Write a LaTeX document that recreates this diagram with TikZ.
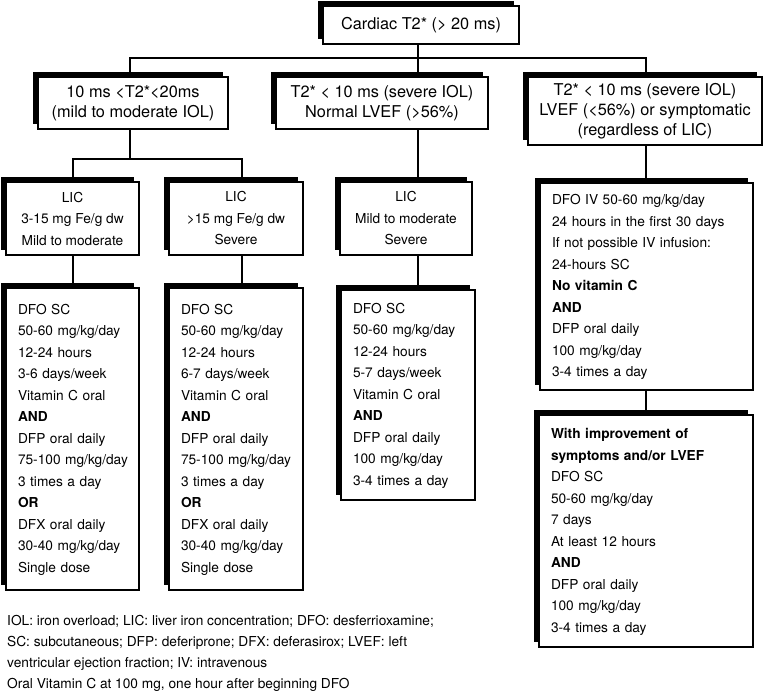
\documentclass[tikz,border=0pt]{standalone}
\usepackage{fontspec}
\setmainfont{TeX Gyre Heros}
\usetikzlibrary{shadows}
\begin{document}
\begin{tikzpicture}[x=1pt,y=-1pt,
  box/.style={draw=black, line width=1.3pt, fill=white, rectangle, inner sep=0pt,
     drop shadow={shadow xshift=-5pt, shadow yshift=5pt, fill=black, opacity=1}},
  head/.style={box, align=center, font=\fontsize{16.3}{20}\selectfont},
  lic/.style={box, align=center, font=\fontsize{13.7}{21.5}\selectfont},
  list/.style={box, inner xsep=12pt, font=\fontsize{13.7}{21.5}\selectfont},
  conn/.style={line width=2.2pt},
  foot/.style={anchor=base west, inner sep=0pt, font=\fontsize{13.7}{21}\selectfont}]
\useasboundingbox (0,0) rectangle (771,692);

% junction coordinates
\coordinate (b0) at (0,58);
\coordinate (b1) at (0,159);
\coordinate (x1) at (130,0);
\coordinate (x2) at (418,0);
\coordinate (x3) at (646,0);
\coordinate (x4) at (73,0);
\coordinate (x5) at (242,0);

% top
\node[head, minimum width=196pt, minimum height=38pt] (top) at (421,25) {Cardiac T2* (> 20 ms)};

% row 2
\node[head, minimum width=190pt, minimum height=52pt] (box1) at (133,103) {10 ms <T2*<20ms\\(mild to moderate IOL)};
\node[head, minimum width=212pt, minimum height=52pt] (box2) at (382,103) {T2* < 10 ms (severe IOL)\\Normal LVEF (>56\%)};
\node[head, minimum width=234pt, minimum height=68pt] (box3) at (645,111) {T2* < 10 ms (severe IOL)\\LVEF (<56\%) or symptomatic\\(regardless of LIC)};

% LIC row
\node[lic, minimum width=133pt, minimum height=73pt] (lic1) at (72.5,218.5) {LIC\\3-15 mg Fe/g dw\\Mild to moderate};
\node[lic, minimum width=134pt, minimum height=73pt] (lic2) at (236,218.5) {LIC\\>15 mg Fe/g dw\\Severe};
\node[lic, minimum width=132pt, minimum height=73pt] (lic3) at (406,218.5) {LIC\\Mild to moderate\\Severe};

% IV box
\node[list, text width=189pt, minimum height=207pt] (ivbox) at (646.5,286.5) {\begin{tabular}{@{}l@{}}DFO IV 50-60 mg/kg/day\\24 hours in the first 30 days\\If not possible IV infusion:\\24-hours SC\\\textbf{No vitamin C}\\\textbf{AND}\\DFP oral daily\\100 mg/kg/day\\3-4 times a day\end{tabular}};

% treatment boxes
\node[list, text width=109pt, minimum height=302pt] (dfo1) at (72.5,439) {\begin{tabular}{@{}l@{}}DFO SC\\50-60 mg/kg/day\\12-24 hours\\3-6 days/week\\Vitamin C oral\\\textbf{AND}\\DFP oral daily\\75-100 mg/kg/day\\3 times a day\\\textbf{OR}\\DFX oral daily\\30-40 mg/kg/day\\Single dose\end{tabular}};
\node[list, text width=110pt, minimum height=302pt] (dfo2) at (236,439) {\begin{tabular}{@{}l@{}}DFO SC\\50-60 mg/kg/day\\12-24 hours\\6-7 days/week\\Vitamin C oral\\\textbf{AND}\\DFP oral daily\\75-100 mg/kg/day\\3 times a day\\\textbf{OR}\\DFX oral daily\\30-40 mg/kg/day\\Single dose\end{tabular}};
\node[list, text width=110pt, minimum height=210pt] (dfo3) at (408,395) {\begin{tabular}{@{}l@{}}DFO SC\\50-60 mg/kg/day\\12-24 hours\\5-7 days/week\\Vitamin C oral\\\textbf{AND}\\DFP oral daily\\100 mg/kg/day\\3-4 times a day\end{tabular}};
\node[list, text width=190pt, minimum height=232pt] (imp) at (646,531) {\begin{tabular}{@{}l@{}}\textbf{With improvement of}\\\textbf{symptoms and/or LVEF}\\DFO SC\\50-60 mg/kg/day\\7 days\\At least 12 hours\\\textbf{AND}\\DFP oral daily\\100 mg/kg/day\\3-4 times a day\end{tabular}};

% connectors
\draw[conn] (x2 |- top.south) -- (x2 |- b0);
\draw[conn] (x1 |- box1.north) -- (x1 |- b0) -- (x3 |- b0) -- (x3 |- box3.north);
\draw[conn] (x2 |- b0) -- (x2 |- box2.north);
\draw[conn] (x1 |- box1.south) -- (x1 |- b1);
\draw[conn] (x4 |- lic1.north) -- (x4 |- b1) -- (x5 |- b1) -- (x5 |- lic2.north);
\draw[conn] (x2 |- box2.south) -- (x2 |- lic3.north);
\draw[conn] (x3 |- box3.south) -- (x3 |- ivbox.north);
\draw[conn] (x4 |- lic1.south) -- (x4 |- dfo1.north);
\draw[conn] (x5 |- lic2.south) -- (x5 |- dfo2.north);
\draw[conn] (x2 |- lic3.south) -- (x2 |- dfo3.north);
\draw[conn] (x3 |- ivbox.south) -- (x3 |- imp.north);

% footnote
\node[foot] (f1) at (7,625) {IOL: iron overload; LIC: liver iron concentration; DFO: desferrioxamine;};
\node[foot] (f2) at (7,646) {SC: subcutaneous; DFP: deferiprone; DFX: deferasirox; LVEF: left};
\node[foot] (f3) at (7,667) {ventricular ejection fraction; IV: intravenous};
\node[foot] (f4) at (7,688) {Oral Vitamin C at 100 mg, one hour after beginning DFO};
\end{tikzpicture}
\end{document}
